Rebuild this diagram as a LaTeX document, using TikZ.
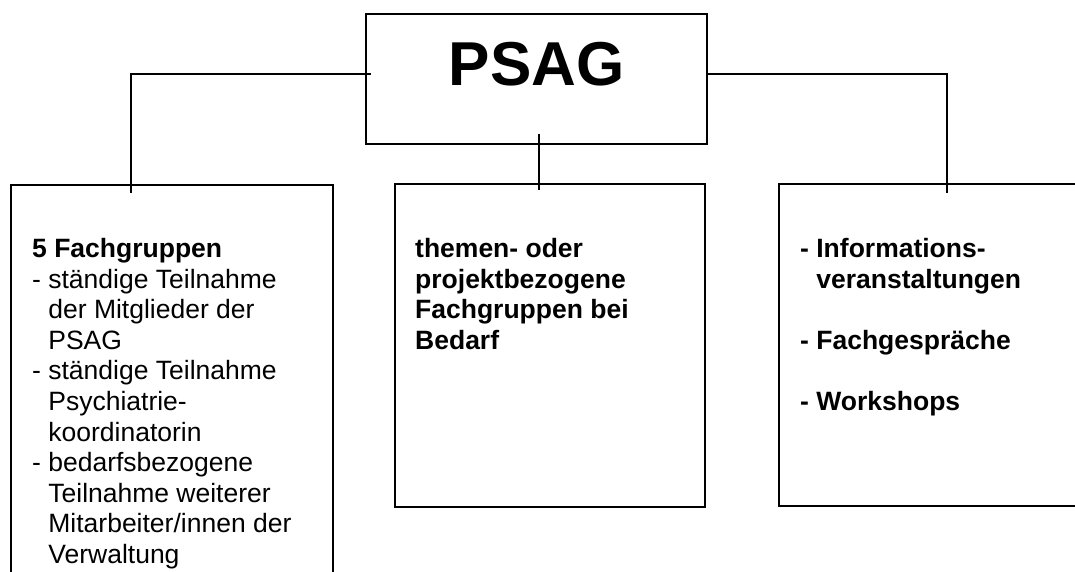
\documentclass[tikz,border=0pt]{standalone}
\usepackage{fontspec}
\setmainfont{Liberation Sans}

\begin{document}
\begin{tikzpicture}[x=1pt, y=-1pt,
    headbox/.style={rectangle, draw, line width=2pt, inner sep=0pt, outer sep=0pt, minimum width=341pt, text height=72pt, text depth=58pt, font=\fontsize{62}{62}\selectfont\bfseries},
    unitbox/.style={rectangle, draw, line width=2pt, anchor=north west, inner sep=0pt, outer sep=0pt},
    boxtext/.style={anchor=north west, align=left, inner sep=0pt, font=\fontsize{26.5}{30.6}\selectfont},
    boldtext/.style={boxtext, font=\fontsize{26.5}{30.6}\selectfont\bfseries},
    link/.style={line width=2pt}
]
    \useasboundingbox (0,0) rectangle (1075,572);
    \clip (0,0) rectangle (1075,572);

    % Head
    \node[headbox] (psag) at (536.5,79) {PSAG};

    % Units
    \node[unitbox, minimum width=322pt, minimum height=420pt] (fachbox) at (11,185) {};
    \node[unitbox, minimum width=310pt, minimum height=323pt] (thembox) at (395,184) {};
    \node[unitbox, minimum width=330pt, minimum height=322pt] (infobox) at (779,184) {};

    % Texts
    \node[boxtext] (fachtext) at (32,238) {\textbf{5 Fachgruppen}\\
        - ständige Teilnahme\\
        \phantom{- }der Mitglieder der\\
        \phantom{- }PSAG\\
        - ständige Teilnahme\\
        \phantom{- }Psychiatrie-\\
        \phantom{- }koordinatorin\\
        - bedarfsbezogene\\
        \phantom{- }Teilnahme weiterer\\
        \phantom{- }Mitarbeiter/innen der\\
        \phantom{- }Verwaltung};
    \node[boldtext] (themtext) at (415,238) {themen- oder\\
        projektbezogene\\
        Fachgruppen bei\\
        Bedarf};
    \node[boldtext] (infotext) at (800,238) {- Informations-\\
        \phantom{- }veranstaltungen\\[30.6pt]
        - Fachgespräche\\[30.6pt]
        - Workshops};

    % Links
    \coordinate (ljoin) at ([xshift=5pt,yshift=5pt]psag.west);
    \coordinate (lfoot) at ([xshift=120pt,yshift=-8pt]fachbox.north west);
    \coordinate (rjoin) at ([yshift=5pt]psag.east);
    \coordinate (rfoot) at ([xshift=168pt,yshift=-9pt]infobox.north west);
    \coordinate (mtop) at ([xshift=2.5pt,yshift=10pt]psag.south);
    \coordinate (mfoot) at ([yshift=-6pt]thembox.north);
    \draw[link] (ljoin) -| (lfoot);
    \draw[link] (rjoin) -| (rfoot);
    \draw[link] (mtop) -- (mtop |- mfoot);
\end{tikzpicture}
\end{document}
